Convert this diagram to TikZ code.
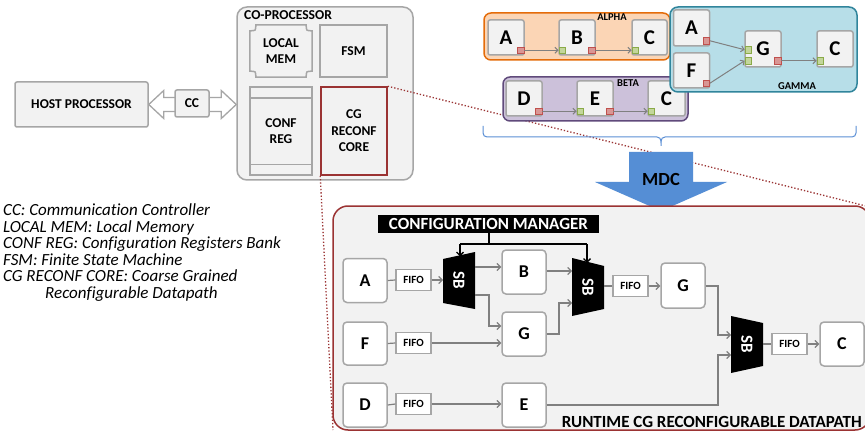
\documentclass[tikz,border=0pt]{standalone}
\usepackage{fontspec}
\setmainfont{Carlito}[Ligatures=NoCommon]
\usetikzlibrary{arrows.meta,calc}
\definecolor{boxfill}{HTML}{F2F2F2}
\definecolor{boxline}{HTML}{A6A6A6}
\definecolor{dred}{HTML}{9B3333}
\definecolor{agray}{HTML}{808080}
\definecolor{orfill}{HTML}{FBD5B5}
\definecolor{orline}{HTML}{E46C0A}
\definecolor{lvfill}{HTML}{CCC1DA}
\definecolor{lvline}{HTML}{604A7B}
\definecolor{ltfill}{HTML}{B7DEE8}
\definecolor{ltline}{HTML}{31859C}
\definecolor{prfill}{HTML}{D99694}
\definecolor{prline}{HTML}{C0504D}
\definecolor{pgfill}{HTML}{C3D69B}
\definecolor{pgline}{HTML}{8AAA48}
\definecolor{mdcblue}{HTML}{558ED5}
\definecolor{braceblue}{HTML}{5B8FD5}
\tikzset{
 gbox/.style={draw=boxline, fill=boxfill, line width=1.5pt, rounded corners=2pt, inner sep=0pt, align=center, font=\bfseries\fontsize{13.5}{16.5}\selectfont},
 gtext/.style={inner sep=0pt, align=center, font=\bfseries\fontsize{13.5}{16.5}\selectfont},
 rtn/.style={draw=boxline, fill=white, line width=1.5pt, rounded corners=4pt, minimum width=44pt, minimum height=44pt, inner sep=0pt, font=\bfseries\fontsize{18}{20}\selectfont},
 fifo/.style={draw=boxline, fill=white, line width=1.2pt, minimum width=35pt, minimum height=21pt, inner sep=0pt, font=\bfseries\fontsize{11}{12}\selectfont},
 conn/.style={draw=agray, line width=1.2pt},
 arr/.style={conn, -{Straight Barb[length=3.5pt,width=7pt]}},
 cmarr/.style={draw=black, line width=1.3pt, -{Straight Barb[length=3.5pt,width=7pt]}},
 sblab/.style={text=white, rotate=-90, font=\bfseries\fontsize{17}{18}\selectfont, inner sep=0pt},
 tn/.style={draw=boxline, fill=boxfill, line width=1.5pt, rounded corners=2pt, minimum width=36pt, minimum height=35pt, inner sep=0pt, font=\bfseries\fontsize{21}{22}\selectfont},
 pr/.style={draw=prline, fill=prfill, line width=0.7pt, minimum size=6.5pt, inner sep=0pt},
 pg/.style={draw=pgline, fill=pgfill, line width=0.7pt, minimum size=6.5pt, inner sep=0pt},
 tarr/.style={draw=agray, line width=1pt, -{Straight Barb[length=3pt,width=6pt]}},
 grp/.style={line width=1.5pt, rounded corners=7pt, inner sep=0pt},
 glab/.style={font=\bfseries\fontsize{10.5}{12}\selectfont, inner sep=0pt},
 dots/.style={draw=dred, dotted, line width=1.3pt},
}
\begin{document}
\begin{tikzpicture}[x=1pt,y=-1pt]
\clip (0,0) rectangle (865,433);
\fill[white] (0,0) rectangle (865,433);

% ---------------- co-processor side
\node[gbox, minimum width=133pt, minimum height=45pt] (host) at (81.5,104.5) {HOST PROCESSOR};
\node[gbox, rounded corners=10pt, minimum width=176pt, minimum height=173pt] (cop) at (325,93.5) {};
\node[gtext, anchor=west, font=\bfseries\fontsize{13.6}{15}\selectfont] (coplab) at (244,15.5) {CO-PROCESSOR};
\path node[minimum width=62pt, minimum height=52pt, inner sep=0pt] (lm) at (281,51) {};
\filldraw[draw=boxline, fill=boxfill, line width=1.5pt]
  ($(lm.north west)+(6,0)$) -- ($(lm.north east)+(-6,0)$)
  .. controls ($(lm.north east)+(-6,6)$) .. ($(lm.north east)+(0,6)$)
  -- ($(lm.south east)+(0,-6)$)
  .. controls ($(lm.south east)+(-6,-6)$) .. ($(lm.south east)+(-6,0)$)
  -- ($(lm.south west)+(6,0)$)
  .. controls ($(lm.south west)+(6,-6)$) .. ($(lm.south west)+(0,-6)$)
  -- ($(lm.north west)+(0,6)$)
  .. controls ($(lm.north west)+(6,6)$) .. ($(lm.north west)+(6,0)$) -- cycle;
\node[gtext] (lmtxt) at (lm) {LOCAL\\MEM};
\node[gbox, rounded corners=0pt, minimum width=67pt, minimum height=52pt] (fsm) at (353.5,51) {FSM};
\node[gbox, rounded corners=0pt, minimum width=62pt, minimum height=88pt] (cr) at (281,131) {CONF\\REG};
\draw[draw=boxline, line width=1.5pt] ($(cr.north west)+(0,12)$) -- ($(cr.north east)+(0,12)$);
\draw[draw=boxline, line width=1.5pt] ($(cr.south west)+(0,-11)$) -- ($(cr.south east)+(0,-11)$);
\node[gbox, draw=dred, rounded corners=0pt, minimum width=66pt, minimum height=88pt] (cg) at (354,131) {CG\\RECONF\\CORE};

% double arrow with CC
\draw[draw=boxline, fill=white, line width=1.3pt]
  (host.east) -- ++(15,-14) -- ++(0,7) -- ($(cop.west |- host.east)+(-15,-7)$) -- ++(0,-7)
  -- (cop.west |- host.east) -- ++(-15,14) -- ++(0,-7) -- ($(host.east)+(15,7)$) -- ++(0,7) -- cycle;
\node[gbox, minimum width=34pt, minimum height=27pt] (cc) at (192,103.5) {CC};

% legend
\node[anchor=west, align=left, inner sep=0pt, font=\itshape\fontsize{17}{16.6}\selectfont] (legend) at (3,252.5)
 {CC: Communication Controller\\
  LOCAL MEM: Local Memory\\
  CONF REG: Configuration Registers Bank\\
  FSM: Finite State Machine\\
  CG RECONF CORE: Coarse Grained\\
  \hspace*{42pt}Reconfigurable Datapath};

% dotted zoom lines (behind)
\coordinate (rttr) at (866,206);
\coordinate (rtbl) at (333,430);
\draw[dots] (cg.north east) -- (rttr);
\draw[dots] (cg.south west) -- (rtbl);

% ---------------- top-right dataflow groups
% ALPHA
\node[grp, draw=orline, fill=orfill, minimum width=186pt, minimum height=47pt] (ga) at (577,36.5) {};
\node[glab] (galab) at (612,17.5) {ALPHA};
\node[tn] (aA) at (506,37.5) {A};
\node[tn] (aB) at (577,37.5) {B};
\node[tn, minimum width=35pt] (aC) at (649.5,37.5) {C};
\node[pr] (aAr) at ($(aA.south east)+(-4,-5.5)$) {};
\node[pg] (aBg) at ($(aB.south west)+(4,-5.5)$) {};
\node[pr] (aBr) at ($(aB.south east)+(-4,-5.5)$) {};
\node[pg] (aCg) at ($(aC.south west)+(4,-5.5)$) {};
\draw[tarr] (aAr.east) -- (aBg.west);
\draw[tarr] (aBr.east) -- (aCg.west);

% BETA
\node[grp, draw=lvline, fill=lvfill, minimum width=185pt, minimum height=44pt] (gb) at (595.5,99) {};
\node[glab] (gblab) at (628,83.5) {BETA};
\node[tn] (bD) at (524,98.5) {D};
\node[tn] (bE) at (595,98.5) {E};
\node[tn, minimum width=37pt] (bC) at (666.5,98.5) {C};
\node[pr] (bDr) at ($(bD.south east)+(-4,-5.5)$) {};
\node[pg] (bEg) at ($(bE.south west)+(4,-5.5)$) {};
\node[pr] (bEr) at ($(bE.south east)+(-4,-5.5)$) {};
\node[pg] (bCg) at ($(bC.south west)+(4,-5.5)$) {};
\draw[tarr] (bDr.east) -- (bEg.west);
\draw[tarr] (bEr.east) -- (bCg.west);

% GAMMA
\node[grp, draw=ltline, fill=ltfill, rounded corners=8pt, minimum width=187pt, minimum height=85pt] (gg) at (763.5,49.5) {};
\node[glab] (gglab) at (797,86) {GAMMA};
\node[tn, minimum height=36pt] (gA) at (691.5,28) {A};
\node[tn] (gF) at (691.5,70.5) {F};
\node[tn, minimum height=36pt] (gG) at (763,49) {G};
\node[tn, minimum height=36pt] (gC) at (835,49) {C};
\node[pr] (gAr) at ($(gA.south east)+(-4,-6)$) {};
\node[pr] (gFr) at ($(gF.south east)+(-4,-5.5)$) {};
\node[pg] (gGg1) at ($(gG.south west)+(4,-18)$) {};
\node[pg] (gGg2) at ($(gG.south west)+(4,-7)$) {};
\node[pr] (gGr) at ($(gG.south east)+(-4,-7)$) {};
\node[pg] (gCg) at ($(gC.south west)+(4,-7)$) {};
\draw[tarr] (gAr.east) -- (gGg1.west);
\draw[tarr] (gFr.east) -- (gGg2.west);
\draw[tarr] (gGr.east) -- (gCg.west);

% brace and MDC arrow
\draw[braceblue, line width=1pt, rounded corners=4pt] (483,126) |- (661,137) -- (661,146);
\draw[braceblue, line width=1pt, rounded corners=4pt] (661,140) |- (856,137) -- (856,126);
\filldraw[fill=mdcblue, draw=none] (629,152) -- (693,152) -- (693,182) -- (727,182) -- (661,211) -- (595,182) -- (629,182) -- cycle;
\node[inner sep=0pt, font=\bfseries\fontsize{18.5}{20}\selectfont] (mdc) at (661,179) {MDC};

% ---------------- runtime datapath
\node[draw=dred, fill=boxfill, line width=1.5pt, rounded corners=15pt, minimum width=537pt, minimum height=224pt, inner sep=0pt] (rt) at (601.5,318) {};
\node[anchor=east, inner sep=0pt, font=\bfseries\fontsize{17}{18}\selectfont] (rtlab) at (862,422) {RUNTIME CG RECONFIGURABLE DATAPATH};
\node[fill=black, text=white, minimum width=221pt, minimum height=18pt, inner sep=0pt, font=\bfseries\fontsize{17}{18}\selectfont] (cm) at (488.5,224) {CONFIGURATION MANAGER};

\node[rtn] (A) at (365,280.5) {A};
\node[rtn, minimum height=43pt] (F) at (365,343.5) {F};
\node[rtn] (D) at (365,405) {D};
\node[fifo] (f1) at (413.5,280) {FIFO};
\node[fifo] (f2) at (413.5,343) {FIFO};
\node[fifo] (f3) at (413.5,404) {FIFO};
\node[rtn] (B) at (524,272) {B};
\node[rtn] (G1) at (524,334) {G};
\node[rtn] (E) at (524,405) {E};
\node[fifo] (f4) at (630.5,286) {FIFO};
\node[rtn, minimum height=45pt] (G2) at (683,285.5) {G};
\node[fifo] (f5) at (789.5,344) {FIFO};
\node[rtn] (C) at (842,344) {C};

% switch boxes
\fill[black] (443,259) -- (475,252) -- (475,309) -- (443,303) -- cycle;
\node[sblab] (sb1) at (459,280.5) {SB};
\fill[black] (572,258) -- (604,266) -- (604,309) -- (572,316) -- cycle;
\node[sblab] (sb2) at (588,287) {SB};
\fill[black] (731,316) -- (763,323) -- (763,366) -- (731,373) -- cycle;
\node[sblab] (sb3) at (747,344.5) {SB};

% configuration manager arrows
\coordinate (cmj) at (489,244);
\draw[black, line width=1.3pt] (cm.south -| cmj) -- (cmj);
\draw[black, line width=1.3pt] (460,244) -- (587,244);
\draw[cmarr] (460,244) -- (460,256.5);
\draw[cmarr] (587,244) -- (587,263);

% connectors
\draw[conn] (A.east) -- (f1.west);
\draw[arr] (f1.east) -- (443,280);
\draw[arr] (475,267) -- (B.west |- 0,267);
\draw[arr] (475,295) -- (489,295) -- (489,326) -- (G1.west |- 0,326);
\draw[conn] (F.east) -- (f2.west);
\draw[arr] (f2.east) -- (G1.west |- f2.east);
\draw[conn] (D.east) -- (f3.west);
\draw[arr] (f3.east) -- (E.west |- f3.east);
\draw[arr] (B.east |- 0,271) -- (572,271);
\draw[arr] (G1.east) -- (559,334) -- (559,303) -- (572,303);
\draw[conn] (604,286) -- (f4.west);
\draw[arr] (f4.east) -- (G2.west |- f4.east);
\draw[arr] (G2.east |- 0,286) -- (718,286) -- (718,335) -- (731,335);
\draw[arr] (E.east) -- (718,405) -- (718,355) -- (731,355);
\draw[conn] (763,344) -- (f5.west);
\draw[arr] (f5.east) -- (C.west);
\end{tikzpicture}
\end{document}
